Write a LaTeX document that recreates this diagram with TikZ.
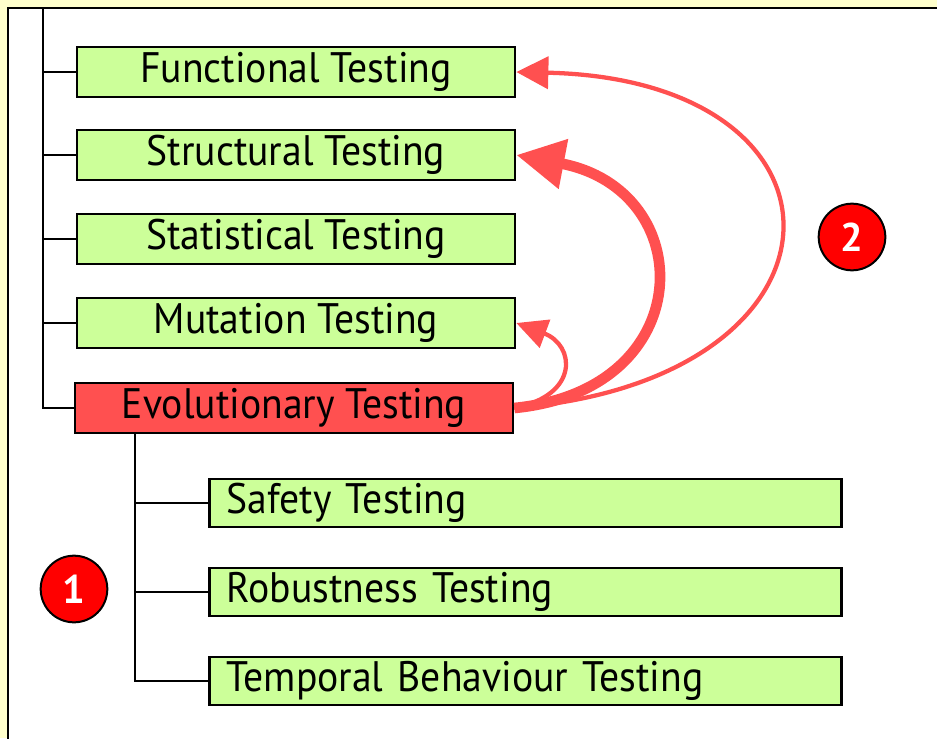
\documentclass[tikz,border=0pt]{standalone}
\usepackage{fontspec}
\setmainfont{PT Sans}
\newfontfamily\boxfont[FakeStretch=0.93]{PT Sans}
\usetikzlibrary{arrows.meta}
\definecolor{testgreen}{HTML}{CCFF99}
\definecolor{evored}{HTML}{FF5050}
\definecolor{pagebg}{HTML}{FFFFCC}
\tikzset{
testbox/.style={draw, line width=2pt, fill=testgreen, inner sep=0pt, minimum width=328.5pt, minimum height=37.5pt, font=\boxfont\fontsize{32}{36}\selectfont},
subbox/.style={draw, line width=2pt, fill=testgreen, anchor=west, inner xsep=13pt, inner ysep=0pt, text width=448pt, align=left, minimum height=36pt, font=\boxfont\fontsize{32}{36}\selectfont},
treeline/.style={line width=1.6pt},
relarrow/.style={draw=evored, line width=3.2pt},
stepmark/.style={circle, draw, line width=1.5pt, fill=red, text=white, minimum size=50pt, inner sep=0pt, font=\bfseries\fontsize{30}{30}\selectfont}
}
\begin{document}
\begin{tikzpicture}[x=0.75pt,y=-0.75pt]
\useasboundingbox (0,0) rectangle (937,738);
\clip (0,0) rectangle (937,738);
\fill[pagebg] (0,0) rectangle (937,738);
\draw[line width=2pt, fill=white] (8,8) rectangle (960,760);

% main tree
\node[testbox] (func) at (296,72) {Functional Testing};
\node[testbox] (struct) at (296,155) {Structural Testing};
\node[testbox] (stat) at (296,239) {Statistical Testing};
\node[testbox] (mut) at (296,323) {Mutation Testing};
\node[testbox, fill=evored] (evo) at (294,408) {Evolutionary Testing};

\coordinate (trunktop) at (43,8);
\draw[treeline] (trunktop) |- (evo.west);
\foreach \n in {func,struct,stat,mut}
  \draw[treeline] (43,0 |- \n.west) -- (\n.west);

% sub tree
\node[subbox] (safety) at (208,503) {Safety Testing};
\node[subbox] (robust) at (208,592) {Robustness Testing};
\node[subbox] (temporal) at (208,681) {Temporal Behaviour Testing};

\coordinate (subtop) at (evo.south -| 135,0);
\draw[treeline] (subtop) |- (temporal.west);
\foreach \n in {safety,robust}
  \draw[treeline] (135,0 |- \n.west) -- (\n.west);

% relations
\draw[relarrow, -{Triangle[length=24pt,width=24pt]}]
  (evo.east) .. controls (865,380) and (870,80) .. (func.east);
\draw[relarrow, line width=8pt, -{Triangle[length=36pt,width=36pt]}]
  (evo.east) .. controls (700,390) and (700,190) .. (struct.east);
\draw[relarrow, -{Triangle[length=23pt,width=22pt]}]
  (evo.east) .. controls (580,395) and (575,345) .. (mut.east);

\node[stepmark] (one) at (74,589) {1};
\node[stepmark] (two) at (852,237) {2};
\end{tikzpicture}
\end{document}
